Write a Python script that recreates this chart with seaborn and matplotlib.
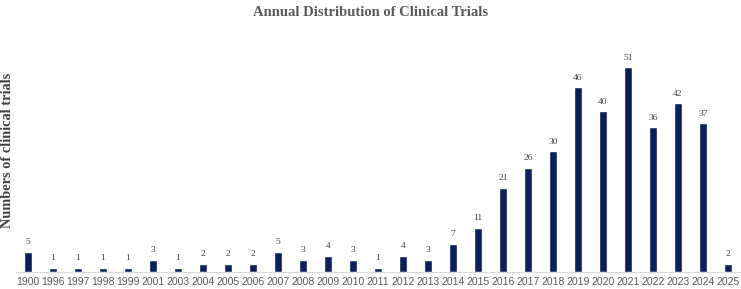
import matplotlib
matplotlib.use("Agg")
import matplotlib.pyplot as plt
import seaborn as sns
import pandas as pd

years = ["1900", "1996", "1997", "1998", "1999", "2001", "2003", "2004", "2005", "2006",
         "2007", "2008", "2009", "2010", "2011", "2012", "2013", "2014", "2015", "2016",
         "2017", "2018", "2019", "2020", "2021", "2022", "2023", "2024", "2025"]
counts = [5, 1, 1, 1, 1, 3, 1, 2, 2, 2,
          5, 3, 4, 3, 1, 4, 3, 7, 11, 21,
          26, 30, 46, 40, 51, 36, 42, 37, 2]

df = pd.DataFrame({"year": years, "count": counts})

sns.set_theme(style="white")
fig = plt.figure(figsize=(7.41, 2.89), dpi=100)
ax = fig.add_axes([15.5 / 741, 17 / 289, 725 / 741, 237 / 289])

sns.barplot(data=df, x="year", y="count", color="#0b1f5c", saturation=1,
            width=0.32, ax=ax, order=years)

ax.set_ylim(0, 59)
ax.set_xlim(-0.5, len(years) - 0.5)
for c in ax.containers:
    ax.bar_label(c, padding=4, fontsize=6.8, family="Liberation Serif", color="#404040")

ax.set_yticks([])
ax.set_xlabel("")
ax.set_ylabel("")
for s in ["top", "right", "left"]:
    ax.spines[s].set_visible(False)
ax.spines["bottom"].set_color("#d9d9d9")
ax.spines["bottom"].set_linewidth(0.8)
ax.tick_params(axis="x", length=0, pad=3.5, labelsize=7.5, labelcolor="#595959")
for t in ax.get_xticklabels():
    t.set_family("Liberation Sans")

fig.text(0.5, 1 - 12 / 289, "Annual Distribution of Clinical Trials",
         ha="center", va="center", family="Liberation Serif", weight="bold",
         fontsize=10.5, color="#595959")
fig.text(7.5 / 741, 1 - 150 / 289, "Numbers of clinical trials", rotation=90,
         ha="center", va="center", family="Liberation Serif", weight="bold",
         fontsize=10.3, color="#404040")

fig.savefig("out.png", dpi=100)
